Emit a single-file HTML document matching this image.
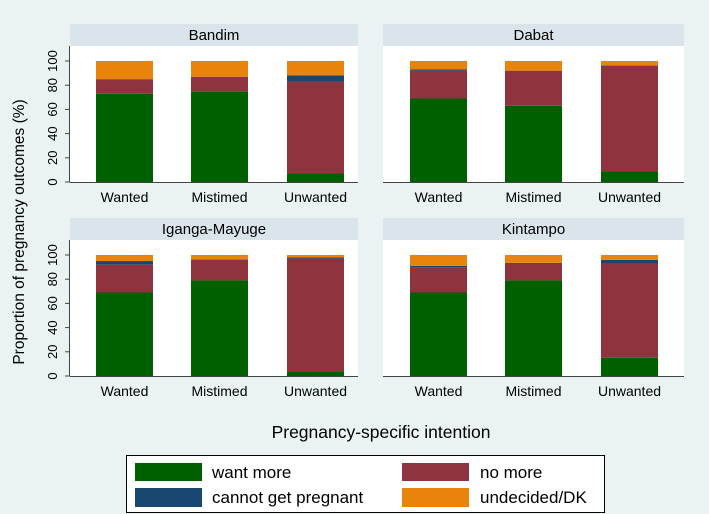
<!DOCTYPE html>
<html><head><meta charset="utf-8"><style>
body{margin:0;background:#eaf2f3;}
svg{display:block;font-family:"Liberation Sans",sans-serif;}
</style></head><body>
<svg id="c" width="709" height="514">
<rect x="0" y="0" width="709" height="514" fill="#eaf2f3"/>
<text x="24" y="232" transform="rotate(-90 24 232)" text-anchor="middle" font-size="15.5" fill="#000">Proportion of pregnancy outcomes (%)</text>
<text x="381" y="438" text-anchor="middle" font-size="17.5" fill="#000">Pregnancy-specific intention</text>
<g>
<rect x="126.5" y="455.5" width="478" height="57" fill="#fff" stroke="#000" stroke-width="1"/>
<rect x="135" y="463" width="67" height="18" fill="#005f00"/>
<text x="212" y="478" font-size="17">want more</text>
<rect x="402" y="463" width="67" height="18" fill="#8f343e"/>
<text x="480" y="478" font-size="17">no more</text>
<rect x="135" y="488" width="67" height="19" fill="#1a476f"/>
<text x="212" y="503" font-size="17">cannot get pregnant</text>
<rect x="402" y="488" width="67" height="19" fill="#e8840c"/>
<text x="480" y="503" font-size="17">undecided/DK</text>
</g>
</svg>
<script>
const panels = ["Bandim","Dabat","Iganga-Mayuge","Kintampo"];
const categories = ["Wanted","Mistimed","Unwanted"];
const seriesNames = ["want more","no more","cannot get pregnant","undecided/DK"];
const wantMore = [[73,75,7],[69,63,9],[69,79,4],[69,79,15]];
const noMore = [[12,12,76],[23,29,87],[23,17,93],[21,14,78]];
const cannotGet = [[0,0,5],[1,0,0.5],[3,0.5,1],[1,0.5,3]];
const undecided = [[15,13,12],[7,8,3.5],[5,3.5,2],[9,6.5,4]];
const yTicks = [0,20,40,60,80,100];
const colors = ["#005f00","#8f343e","#1a476f","#e8840c"];
const NS="http://www.w3.org/2000/svg";
const svg=document.getElementById('c');
function mk(t,a,p){const e=document.createElementNS(NS,t);for(const k in a)e.setAttribute(k,a[k]);(p||svg).appendChild(e);return e;}
const layout=[{x0:70,x1:358,top:24,zero:182},{x0:383,x1:684,top:24,zero:182},{x0:70,x1:358,top:218,zero:376},{x0:383,x1:684,top:218,zero:376}];
const barOffsets=[26,121,217];
panels.forEach((name,pi)=>{
  const L=layout[pi];
  const yScale=v=>L.zero-v*1.21;
  const g=mk('g',{});
  
  
  const hdr=mk('rect',{x:L.x0,y:L.top,width:L.x1-L.x0,height:22,fill:'#d9e5eb'},g);
  
  
  const ht=mk('text',{x:(L.x0+L.x1)/2,y:L.top+16,'text-anchor':'middle','font-size':'15'},g);
  ht.textContent=name;
  
  
  const pa=mk('rect',{x:L.x0,y:L.top+22,width:L.x1-L.x0,height:L.zero-L.top-22,fill:'#fff'},g);
  
  
  const xa=mk('line',{x1:L.x0,x2:L.x1,y1:L.zero+0.5,y2:L.zero+0.5,stroke:'#444','stroke-width':1},g);
  
  
  if(pi%2===0){
    const ya=mk('line',{x1:L.x0-0.5,x2:L.x0-0.5,y1:L.top+22,y2:L.zero,stroke:'#444','stroke-width':1},g);
    
    
    yTicks.forEach(t=>{
      const y=yScale(t);
      mk('line',{x1:L.x0-5,x2:L.x0,y1:y,y2:y,stroke:'#444'},g);
      const tt=mk('text',{x:57,y:y,transform:`rotate(-90 57 ${y})`,'text-anchor':'middle','font-size':'13'},g);
      tt.textContent=t;
      
      
    });
  }
  const series=[wantMore,noMore,cannotGet,undecided];
  categories.forEach((cat,ci)=>{
    const bx=L.x0+barOffsets[ci]+(pi%2?1:0);
    let cum=0;
    series.forEach((s,si)=>{
      const v=s[pi][ci];
      if(v<=0){return;}
      const y1=yScale(cum+v),y0=yScale(cum);
      const r=mk('rect',{x:bx,y:y1,width:57,height:y0-y1,fill:colors[si]},g);
      
      
      cum+=v;
    });
    const ct=mk('text',{x:bx+28.5,y:L.zero+20,'text-anchor':'middle','font-size':'14'},g);
    ct.textContent=cat;
    
    
  });
});
</script>
</body></html>
